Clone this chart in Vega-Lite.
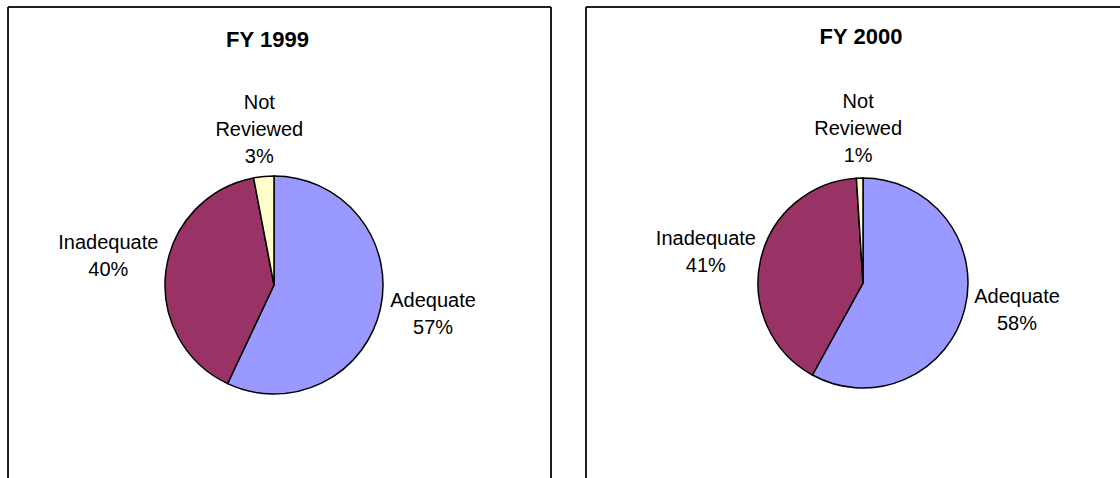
{
  "$schema": "https://vega.github.io/schema/vega-lite/v6.json",
  "padding": {"left": 7, "top": 6, "right": 0, "bottom": 0},
  "background": "white",
  "config": {
    "view": {"stroke": "black", "strokeWidth": 1},
    "concat": {"spacing": 33},
    "title": {"font": "Liberation Sans", "fontSize": 22, "fontWeight": "bold", "color": "black", "anchor": "middle", "baseline": "alphabetic"},
    "text": {"font": "Liberation Sans", "fontSize": 20, "lineBreak": "\n", "lineHeight": 27, "align": "center", "baseline": "middle", "color": "black"}
  },
  "data": {
    "values": [
      {"year": "FY 1999", "category": "Adequate", "value": 57, "label": "Adequate\n57%"},
      {"year": "FY 1999", "category": "Inadequate", "value": 40, "label": "Inadequate\n40%"},
      {"year": "FY 1999", "category": "Not Reviewed", "value": 3, "label": "Not\nReviewed\n3%"},
      {"year": "FY 2000", "category": "Adequate", "value": 58, "label": "Adequate\n58%"},
      {"year": "FY 2000", "category": "Inadequate", "value": 41, "label": "Inadequate\n41%"},
      {"year": "FY 2000", "category": "Not Reviewed", "value": 1, "label": "Not\nReviewed\n1%"}
    ]
  },
  "hconcat": [
    {
      "title": {"text": "FY 1999", "offset": -45, "dx": -12},
      "width": 543,
      "height": 556,
      "transform": [{"filter": "datum.year === 'FY 1999'"}],
      "encoding": {
        "theta": {"field": "value", "type": "quantitative", "stack": true},
        "order": {"field": "category", "type": "ordinal", "sort": "ascending"}
      },
      "layer": [
        {
          "mark": {"type": "rect", "fillOpacity": 0, "stroke": "black", "strokeWidth": 1},
          "encoding": {"theta": null, "order": null}
        },
        {
          "mark": {"type": "arc", "outerRadius": 109, "stroke": "black", "strokeWidth": 1.5, "xOffset": -5.5},
          "encoding": {
            "color": {"field": "category", "type": "nominal", "scale": {"domain": ["Adequate", "Inadequate", "Not Reviewed"], "range": ["#9999FF", "#993366", "#FFFFCC"]}, "legend": null}
          }
        },
        {
          "mark": {"type": "text", "radius": 163, "dy": -20, "xOffset": -5.5},
          "encoding": {
            "detail": {"field": "category", "type": "nominal"},
            "text": {"condition": {"test": "datum.category === 'Adequate'", "field": "label"}, "value": ""}
          }
        },
        {
          "mark": {"type": "text", "radius": 167, "dy": -21.5, "xOffset": -5.5},
          "encoding": {
            "detail": {"field": "category", "type": "nominal"},
            "text": {"condition": {"test": "datum.category === 'Inadequate'", "field": "label"}, "value": ""}
          }
        },
        {
          "mark": {"type": "text", "radius": 156, "dy": -27, "xOffset": -5.5},
          "encoding": {
            "detail": {"field": "category", "type": "nominal"},
            "text": {"condition": {"test": "datum.category === 'Not Reviewed'", "field": "label"}, "value": ""}
          }
        }
      ]
    },
    {
      "title": {"text": "FY 2000", "offset": -42, "dx": -2},
      "width": 554,
      "height": 552,
      "transform": [{"filter": "datum.year === 'FY 2000'"}],
      "encoding": {
        "theta": {"field": "value", "type": "quantitative", "stack": true},
        "order": {"field": "category", "type": "ordinal", "sort": "ascending"}
      },
      "layer": [
        {
          "mark": {"type": "rect", "fillOpacity": 0, "stroke": "black", "strokeWidth": 1},
          "encoding": {"theta": null, "order": null}
        },
        {
          "mark": {"type": "arc", "outerRadius": 105, "stroke": "black", "strokeWidth": 1.5},
          "encoding": {
            "color": {"field": "category", "type": "nominal", "scale": {"domain": ["Adequate", "Inadequate", "Not Reviewed"], "range": ["#9999FF", "#993366", "#FFFFCC"]}, "legend": null}
          }
        },
        {
          "mark": {"type": "text", "radius": 159, "dy": -26},
          "encoding": {
            "detail": {"field": "category", "type": "nominal"},
            "text": {"condition": {"test": "datum.category === 'Adequate'", "field": "label"}, "value": ""}
          }
        },
        {
          "mark": {"type": "text", "radius": 161, "dy": -9},
          "encoding": {
            "detail": {"field": "category", "type": "nominal"},
            "text": {"condition": {"test": "datum.category === 'Inadequate'", "field": "label"}, "value": ""}
          }
        },
        {
          "mark": {"type": "text", "radius": 154, "dy": -27},
          "encoding": {
            "detail": {"field": "category", "type": "nominal"},
            "text": {"condition": {"test": "datum.category === 'Not Reviewed'", "field": "label"}, "value": ""}
          }
        }
      ]
    }
  ]
}
